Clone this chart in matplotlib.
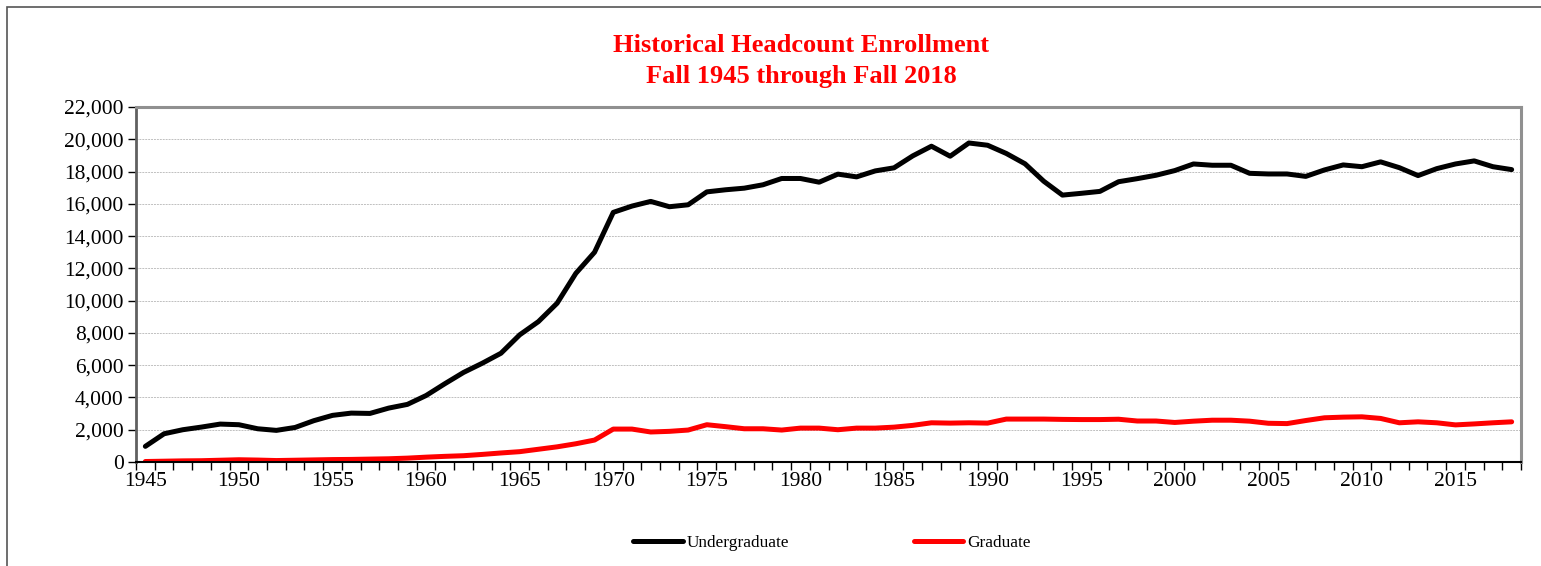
"""
Historical headcount enrollment, fall 1945 through fall 2018
"""

import matplotlib
matplotlib.use("Agg")
import matplotlib.pyplot as plt
from matplotlib.patches import Rectangle
from matplotlib.ticker import FuncFormatter

plt.rcParams["font.family"] = ["Liberation Serif", "DejaVu Serif"]

years = list(range(1945, 2019))

undergraduate = [
    970, 1750, 2000, 2165, 2350, 2310, 2060, 1960, 2140, 2560,
    2890, 3030, 3010, 3340, 3570, 4120, 4850, 5550, 6120, 6740,
    7880, 8700, 9840, 11690, 13000, 15470, 15860, 16150, 15820, 15940,
    16740, 16870, 16970, 17180, 17570, 17570, 17340, 17840, 17670, 18040,
    18230, 18970, 19570, 18950, 19770, 19630, 19120, 18480, 17400, 16540,
    16650, 16770, 17370, 17560, 17770, 18060, 18470, 18390, 18390, 17890,
    17850, 17850, 17700, 18100, 18410, 18300, 18600, 18240, 17750, 18180,
    18470, 18660, 18300, 18120,
]

graduate = [
    30, 50, 70, 80, 110, 140, 120, 90, 110, 130,
    150, 160, 180, 200, 240, 300, 350, 390, 470, 560,
    640, 790, 940, 1130, 1360, 2040, 2040, 1860, 1900, 1980,
    2310, 2190, 2060, 2060, 1980, 2100, 2100, 2000, 2100, 2100,
    2160, 2270, 2430, 2410, 2430, 2410, 2660, 2660, 2660, 2640,
    2630, 2630, 2650, 2540, 2540, 2450, 2530, 2590, 2590, 2530,
    2400, 2380, 2570, 2740, 2780, 2800, 2700, 2430, 2490, 2430,
    2300, 2360, 2430, 2490,
]

fig = plt.figure(figsize=(15.41, 5.66), dpi=100)
ax = fig.add_axes([136 / 1541, 1 - 462 / 566, 1385 / 1541, 355 / 566])

# outer chart frame (runs off the right and bottom edges)
fig.patches.append(Rectangle((7 / 1541, -0.1), 1.2, 1 - 7 / 566 + 0.1,
                             transform=fig.transFigure, fill=False,
                             edgecolor="#555555", linewidth=1.2))

x = list(range(len(years)))
ax.plot(x, undergraduate, color="black", linewidth=3.6,
        solid_joinstyle="round", solid_capstyle="round", label="Undergraduate")
ax.plot(x, graduate, color="#ff0000", linewidth=3.6,
        solid_joinstyle="round", solid_capstyle="round", label="Graduate")

# axes
ax.set_xlim(-0.5, len(years) - 0.5)
ax.set_ylim(0, 22000)
ax.set_yticks(range(0, 22001, 2000))
ax.yaxis.set_major_formatter(FuncFormatter(lambda v, p: f"{int(v):,}"))
ax.grid(axis="y", color="#c0c0c0", linestyle=(0, (2, 1)), linewidth=0.7)
ax.set_axisbelow(True)

# tick marks at category boundaries, labels at category centres
ax.set_xticks([i - 0.5 for i in range(len(years) + 1)])
ax.set_xticklabels([])
ax.set_xticks([i for i, yr in enumerate(years) if yr % 5 == 0], minor=True)
ax.set_xticklabels([str(yr) for yr in years if yr % 5 == 0], minor=True)
ax.tick_params(axis="x", which="major", direction="out", length=6, width=1, color="black")
ax.tick_params(axis="x", which="minor", length=0, labelsize=15.5, pad=7)
ax.tick_params(axis="y", direction="out", length=6, width=1, labelsize=15.5, pad=3)

ax.spines["left"].set_color("#606060")
ax.spines["left"].set_linewidth(2)
ax.spines["bottom"].set_color("black")
ax.spines["bottom"].set_linewidth(1.5)
for side in ("top", "right"):
    ax.spines[side].set_color("#909090")
    ax.spines[side].set_linewidth(2.2)

# title
fig.text(801 / 1541, 1 - 46 / 566, "Historical Headcount Enrollment",
         ha="center", va="center", color="#ff0000", fontsize=19, fontweight="bold")
fig.text(801 / 1541, 1 - 76 / 566, "Fall 1945 through Fall 2018",
         ha="center", va="center", color="#ff0000", fontsize=19, fontweight="bold")

# legend
fig.legend(loc="center", bbox_to_anchor=(832 / 1541, 1 - 543 / 566), ncol=2,
           frameon=False, fontsize=12.4, handlelength=2.9, handletextpad=0.25,
           columnspacing=7.2)

plt.savefig("out.png", dpi=100)
